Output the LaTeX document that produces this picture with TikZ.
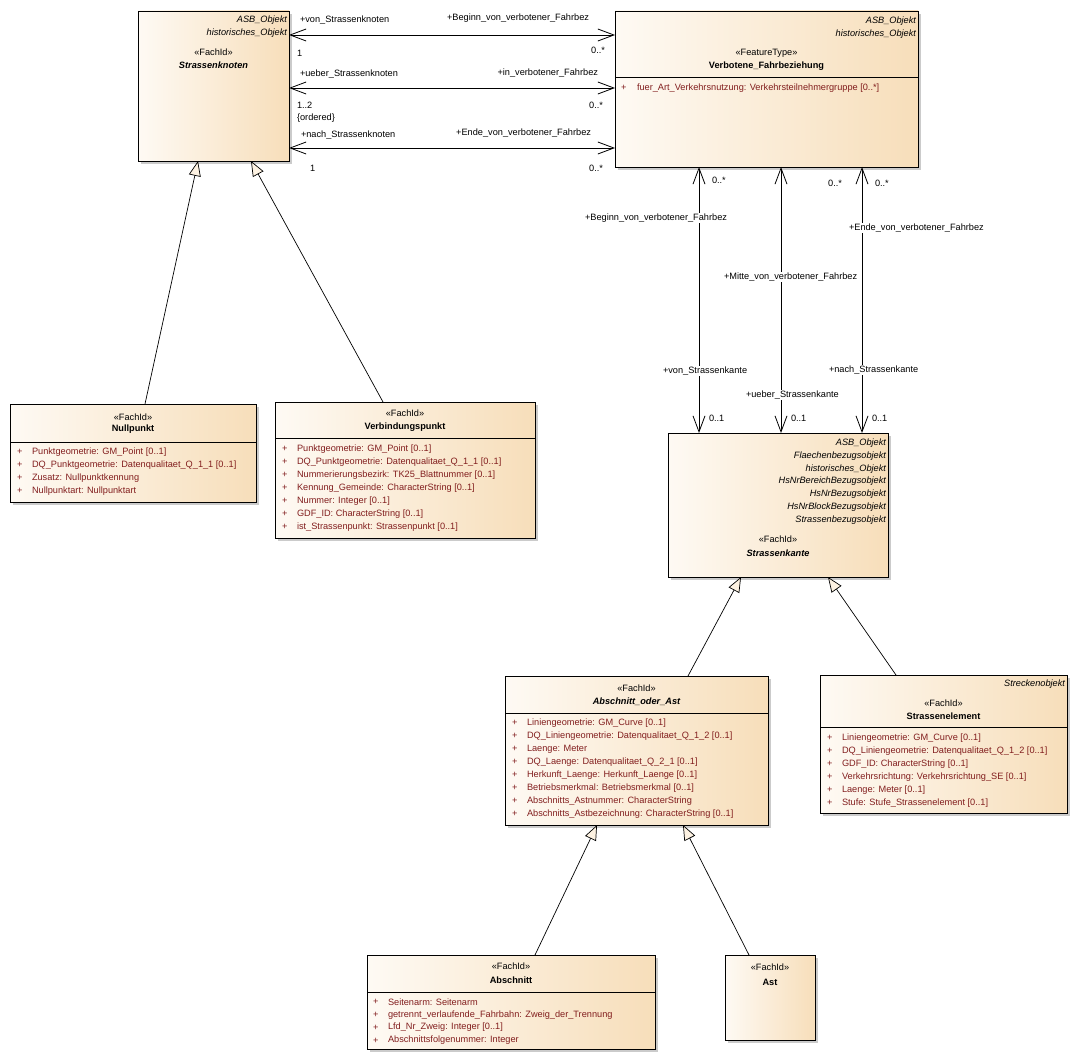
\documentclass[tikz,border=0pt]{standalone}
\usepackage{fontspec}
\setmainfont{Liberation Sans}
\usetikzlibrary{arrows.meta,shadows}
\definecolor{attrred}{RGB}{130,30,30}
\definecolor{boxl}{RGB}{254,250,244}
\definecolor{boxr}{RGB}{247,222,186}
\definecolor{trifill}{RGB}{253,242,226}
\begin{document}
\begin{tikzpicture}[x=1pt,y=-1pt,
  cls/.style={draw=black, line width=0.9pt, left color=boxl, right color=boxr,
    anchor=north west, inner sep=0pt, outer sep=0pt,
    drop shadow={shadow xshift=3pt, shadow yshift=-3pt, fill=black!40, opacity=0.5}},
  txt/.style={font=\fontsize{9.2}{11}\selectfont, inner sep=0pt, outer sep=0pt},
  itx/.style={txt, font=\fontsize{9.2}{11}\selectfont\itshape},
  bfx/.style={txt, font=\fontsize{9.2}{11}\selectfont\bfseries},
  bix/.style={txt, font=\fontsize{9.2}{11}\selectfont\bfseries\itshape},
  attr/.style={txt, text=attrred, anchor=west},
  lblw/.style={txt, fill=white, inner sep=1pt},
  sepline/.style={line width=0.8pt},
  assoc/.style={line width=0.8pt, {Straight Barb[length=16pt,width=12pt]}-{Straight Barb[length=16pt,width=12pt]}},
  gen/.style={line width=0.7pt, -{Triangle[length=15pt,width=12pt,fill=trifill]}}
]
\useasboundingbox[fill=white] (0,0) rectangle (1079,1062);

% ---------- Strassenknoten ----------
\node[cls, minimum width=151pt, minimum height=150pt] (sk) at (138,11) {};
\node[itx, anchor=east] (sk-s1) at (287,20) {ASB\_Objekt};
\node[itx, anchor=east] (sk-s2) at (287,33) {historisches\_Objekt};
\node[txt] (sk-st) at (213.5,52) {«FachId»};
\node[bix] (sk-n) at (213.5,65) {Strassenknoten};

% ---------- Verbotene_Fahrbeziehung ----------
\node[cls, minimum width=303pt, minimum height=156pt] (vf) at (615,11) {};
\draw[sepline] ([yshift=-66pt]vf.north west) -- ([yshift=-66pt]vf.north east);
\node[itx, anchor=east] (vf-s1) at (916,21) {ASB\_Objekt};
\node[itx, anchor=east] (vf-s2) at (916,34) {historisches\_Objekt};
\node[txt] (vf-st) at (766.5,53) {«FeatureType»};
\node[bfx] (vf-n) at (766.5,66) {Verbotene\_Fahrbeziehung};
\node[attr] (vf-p1) at (621,88) {+};
\node[attr] (vf-a1) at (637,88) {fuer\_Art\_Verkehrsnutzung: Verkehrsteilnehmergruppe [0..*]};

% ---------- Nullpunkt ----------
\node[cls, minimum width=246pt, minimum height=98pt] (np) at (10,404) {};
\draw[sepline] ([yshift=-38pt]np.north west) -- ([yshift=-38pt]np.north east);
\node[txt] (np-st) at (133,417) {«FachId»};
\node[bfx] (np-n) at (133,429) {Nullpunkt};
\foreach \t [count=\i from 0] in {Punktgeometrie: GM\_Point [0..1],
  DQ\_Punktgeometrie: Datenqualitaet\_Q\_1\_1 [0..1],
  Zusatz: Nullpunktkennung,
  Nullpunktart: Nullpunktart}{
  \node[attr] (np-p\i) at (17,{452+13*\i}) {+};
  \node[attr] (np-a\i) at (32,{452+13*\i}) {\t};
}

% ---------- Verbindungspunkt ----------
\node[cls, minimum width=260pt, minimum height=136pt] (vp) at (275,402) {};
\draw[sepline] ([yshift=-36pt]vp.north west) -- ([yshift=-36pt]vp.north east);
\node[txt] (vp-st) at (405,413) {«FachId»};
\node[bfx] (vp-n) at (405,427) {Verbindungspunkt};
\foreach \t [count=\i from 0] in {Punktgeometrie: GM\_Point [0..1],
  DQ\_Punktgeometrie: Datenqualitaet\_Q\_1\_1 [0..1],
  Nummerierungsbezirk: TK25\_Blattnummer [0..1],
  Kennung\_Gemeinde: CharacterString [0..1],
  Nummer: Integer [0..1],
  GDF\_ID: CharacterString [0..1],
  ist\_Strassenpunkt: Strassenpunkt [0..1]}{
  \node[attr] (vp-p\i) at (282,{449+13*\i}) {+};
  \node[attr] (vp-a\i) at (297,{449+13*\i}) {\t};
}

% ---------- Strassenkante ----------
\node[cls, minimum width=220pt, minimum height=144pt] (ska) at (668,433) {};
\foreach \t [count=\i from 0] in {ASB\_Objekt, Flaechenbezugsobjekt, historisches\_Objekt,
  HsNrBereichBezugsobjekt, HsNrBezugsobjekt, HsNrBlockBezugsobjekt, Strassenbezugsobjekt}{
  \node[itx, anchor=east] (ska-s\i) at (886,{443+12.85*\i}) {\t};
}
\node[txt] (ska-st) at (778,539) {«FachId»};
\node[bix] (ska-n) at (778,553) {Strassenkante};

% ---------- Abschnitt_oder_Ast ----------
\node[cls, minimum width=263pt, minimum height=149pt] (aoa) at (505,676) {};
\draw[sepline] ([yshift=-37pt]aoa.north west) -- ([yshift=-37pt]aoa.north east);
\node[txt] (aoa-st) at (636.5,688) {«FachId»};
\node[bix] (aoa-n) at (636.5,702) {Abschnitt\_oder\_Ast};
\foreach \t [count=\i from 0] in {Liniengeometrie: GM\_Curve [0..1],
  DQ\_Liniengeometrie: Datenqualitaet\_Q\_1\_2 [0..1],
  Laenge: Meter,
  DQ\_Laenge: Datenqualitaet\_Q\_2\_1 [0..1],
  Herkunft\_Laenge: Herkunft\_Laenge [0..1],
  Betriebsmerkmal: Betriebsmerkmal [0..1],
  Abschnitts\_Astnummer: CharacterString,
  Abschnitts\_Astbezeichnung: CharacterString [0..1]}{
  \node[attr] (aoa-p\i) at (512,{723+13*\i}) {+};
  \node[attr] (aoa-a\i) at (527,{723+13*\i}) {\t};
}

% ---------- Strassenelement ----------
\node[cls, minimum width=247pt, minimum height=138pt] (se) at (820,675) {};
\draw[sepline] ([yshift=-52pt]se.north west) -- ([yshift=-52pt]se.north east);
\node[itx, anchor=east] (se-s1) at (1065,684) {Streckenobjekt};
\node[txt] (se-st) at (943.5,703) {«FachId»};
\node[bfx] (se-n) at (943.5,716) {Strassenelement};
\foreach \t [count=\i from 0] in {Liniengeometrie: GM\_Curve [0..1],
  DQ\_Liniengeometrie: Datenqualitaet\_Q\_1\_2 [0..1],
  GDF\_ID: CharacterString [0..1],
  Verkehrsrichtung: Verkehrsrichtung\_SE [0..1],
  Laenge: Meter [0..1],
  Stufe: Stufe\_Strassenelement [0..1]}{
  \node[attr] (se-p\i) at (827,{738+13*\i}) {+};
  \node[attr] (se-a\i) at (842,{738+13*\i}) {\t};
}

% ---------- Abschnitt ----------
\node[cls, minimum width=288pt, minimum height=94pt] (ab) at (367,955) {};
\draw[sepline] ([yshift=-37pt]ab.north west) -- ([yshift=-37pt]ab.north east);
\node[txt] (ab-st) at (511,966) {«FachId»};
\node[bfx] (ab-n) at (511,980) {Abschnitt};
\foreach \t [count=\i from 0] in {Seitenarm: Seitenarm,
  getrennt\_verlaufende\_Fahrbahn: Zweig\_der\_Trennung,
  Lfd\_Nr\_Zweig: Integer [0..1],
  Abschnittsfolgenummer: Integer}{
  \node[attr] (ab-p\i) at (373,{1002+12.8*\i}) {+};
  \node[attr] (ab-a\i) at (388,{1002+12.8*\i}) {\t};
}

% ---------- Ast ----------
\node[cls, minimum width=90pt, minimum height=85pt] (ast) at (725,955) {};
\node[txt] (ast-st) at (770,967) {«FachId»};
\node[bfx] (ast-n) at (770,982) {Ast};

% ---------- Associations Strassenknoten -- Verbotene_Fahrbeziehung ----------
\draw[assoc] ([yshift=-24pt]sk.north east) -- ([yshift=-24pt]vf.north west);
\draw[assoc] ([yshift=-77pt]sk.north east) -- ([yshift=-77pt]vf.north west);
\draw[assoc] ([yshift=-137pt]sk.north east) -- ([yshift=-137pt]vf.north west);

\node[txt, anchor=west] (l1a) at (300,20) {+von\_Strassenknoten};
\node[txt, anchor=east] (l1b) at (589,18) {+Beginn\_von\_verbotener\_Fahrbez};
\node[txt, anchor=west] (l1c) at (297,53) {1};
\node[txt, anchor=east] (l1d) at (605,50) {0..*};

\node[txt, anchor=west] (l2a) at (300,74) {+ueber\_Strassenknoten};
\node[txt, anchor=east] (l2b) at (598,73) {+in\_verbotener\_Fahrbez};
\node[txt, anchor=west] (l2c) at (297,105) {1..2};
\node[txt, anchor=west] (l2e) at (297,118) {\{ordered\}};
\node[txt, anchor=east] (l2d) at (603,105) {0..*};

\node[txt, anchor=west] (l3a) at (301,135) {+nach\_Strassenknoten};
\node[txt, anchor=east] (l3b) at (591,133) {+Ende\_von\_verbotener\_Fahrbez};
\node[txt, anchor=west] (l3c) at (310,168) {1};
\node[txt, anchor=east] (l3d) at (603,168) {0..*};

% ---------- Associations Verbotene_Fahrbeziehung -- Strassenkante ----------
\draw[assoc] ([xshift=84pt]vf.south west) -- ([xshift=31pt]ska.north west);
\draw[assoc] ([xshift=166pt]vf.south west) -- ([xshift=113pt]ska.north west);
\draw[assoc] ([xshift=247pt]vf.south west) -- ([xshift=194pt]ska.north west);

\node[txt, anchor=west] (v1a) at (712,180) {0..*};
\node[txt, anchor=east] (v2a) at (842,183) {0..*};
\node[txt, anchor=west] (v3a) at (875,183) {0..*};

\node[lblw, anchor=east] (v1b) at (728,218) {+Beginn\_von\_verbotener\_Fahrbez};
\node[lblw, anchor=west] (v2b) at (723,277) {+Mitte\_von\_verbotener\_Fahrbez};
\node[lblw, anchor=west] (v3b) at (848,228) {+Ende\_von\_verbotener\_Fahrbez};

\node[lblw, anchor=west] (v1c) at (662,371) {+von\_Strassenkante};
\node[lblw, anchor=west] (v2c) at (745,395) {+ueber\_Strassenkante};
\node[lblw, anchor=west] (v3c) at (828,370) {+nach\_Strassenkante};

\node[txt, anchor=west] (v1d) at (709,418) {0..1};
\node[txt, anchor=west] (v2d) at (791,418) {0..1};
\node[txt, anchor=west] (v3d) at (872,418) {0..1};

% ---------- Generalizations ----------
\draw[gen] ([xshift=135pt]np.north west) -- ([xshift=60pt]sk.south west);
\draw[gen] ([xshift=108pt]vp.north west) -- ([xshift=113pt]sk.south west);
\draw[gen] ([xshift=183pt]aoa.north west) -- ([xshift=73pt]ska.south west);
\draw[gen] ([xshift=76pt]se.north west) -- ([xshift=160pt]ska.south west);
\draw[gen] ([xshift=168pt]ab.north west) -- ([xshift=92pt]aoa.south west);
\draw[gen] ([xshift=24pt]ast.north west) -- ([xshift=178pt]aoa.south west);
\end{tikzpicture}
\end{document}
